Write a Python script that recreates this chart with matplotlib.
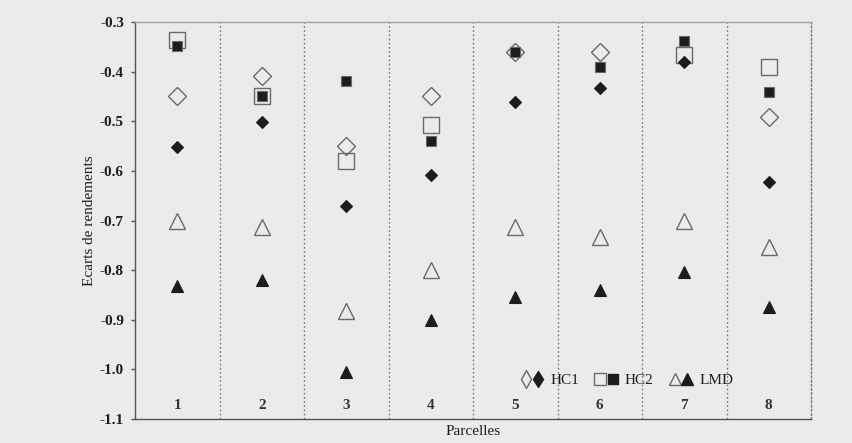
import numpy as np
import matplotlib
matplotlib.use("Agg")
import matplotlib.pyplot as plt
from matplotlib.legend_handler import HandlerTuple
from matplotlib.lines import Line2D

plt.rcParams['font.family'] = ['Liberation Serif', 'DejaVu Serif']

parcelles = ['1', '2', '3', '4', '5', '6', '7', '8']
nan = np.nan

# Yield deviations per plot (open = first scenario, filled = second)
hc1_open = [-0.449, -0.409, -0.550, -0.449, -0.360, -0.360, nan, -0.491]
hc1_fill = [-0.552, -0.502, -0.671, -0.608, -0.461, -0.432, -0.381, -0.622]
hc2_open = [-0.336, -0.449, -0.580, -0.508, nan, nan, -0.367, -0.390]
hc2_fill = [-0.348, -0.449, -0.419, -0.540, -0.360, -0.390, -0.338, -0.441]
lmd_open = [-0.700, -0.713, -0.883, -0.800, -0.713, -0.733, -0.700, -0.753]
lmd_fill = [-0.832, -0.820, -1.006, -0.900, -0.854, -0.840, -0.804, -0.875]

y_ticks = [-0.3, -0.4, -0.5, -0.6, -0.7, -0.8, -0.9, -1.0, -1.1]

bg = '#ebebeb'
ink = '#1c1c1c'
grey = '#6a6a6a'

fig = plt.figure(figsize=(8.53, 4.43), dpi=100, facecolor=bg)
ax = fig.add_axes([0.1583, 0.0542, 0.7925, 0.8961], facecolor=bg)

x = np.arange(1, len(parcelles) + 1)

# open markers first, filled ones on top
ax.plot(x, hc2_open, ls='none', marker='s', ms=12, mfc='none', mec=grey, mew=1.0)
ax.plot(x, hc1_open, ls='none', marker='D', ms=9, mfc='none', mec=grey, mew=1.0)
ax.plot(x, lmd_open, ls='none', marker='^', ms=12, mfc='none', mec=grey, mew=1.0)
ax.plot(x, hc2_fill, ls='none', marker='s', ms=6.5, mfc=ink, mec=grey, mew=0.8)
ax.plot(x, hc1_fill, ls='none', marker='D', ms=6, mfc=ink, mec=ink, mew=0.8)
ax.plot(x, lmd_fill, ls='none', marker='^', ms=8.5, mfc=ink, mec=ink, mew=0.8)

ax.set_xlim(0.5, len(parcelles) + 0.5)
ax.set_ylim(-1.1, -0.3)

# dotted separators between plots
for b in np.arange(1.5, len(parcelles) + 0.5, 1.0):
    ax.axvline(b, color='#777777', ls=(0, (1.2, 1.8)), lw=1.0)

for side in ['left', 'bottom']:
    ax.spines[side].set_color('#555555')
    ax.spines[side].set_linewidth(1.0)
ax.spines['top'].set_color('#a0a0a0')
ax.spines['top'].set_linewidth(1.0)
ax.spines['right'].set_color('#777777')
ax.spines['right'].set_linestyle((0, (1.2, 1.8)))
ax.spines['right'].set_linewidth(1.0)

ax.set_yticks(y_ticks)
ax.set_yticklabels([f'{v:.1f}' for v in y_ticks], fontsize=11, color=ink,
                   fontweight='bold')
ax.tick_params(axis='y', direction='out', length=3, width=1, color='#555555', pad=5)
ax.set_xticks([])

# plot numbers written inside the axes
for xi, lab in zip(x, parcelles):
    ax.text(xi, 0.035, lab, transform=ax.get_xaxis_transform(),
            ha='center', va='center', fontsize=11, fontweight='bold', color='#333333')

ax.set_xlabel('Parcelles', fontsize=11, color=ink, labelpad=4)
ax.set_ylabel('Ecarts de rendements', fontsize=11, color=ink, labelpad=3)

h_hc1 = (Line2D([], [], ls='none', marker='d', ms=9, mfc='none', mec=grey, mew=1.0),
         Line2D([], [], ls='none', marker='d', ms=8, mfc=ink, mec=ink))
h_hc2 = (Line2D([], [], ls='none', marker='s', ms=8, mfc='none', mec=grey, mew=1.0),
         Line2D([], [], ls='none', marker='s', ms=7.5, mfc=ink, mec=ink))
h_lmd = (Line2D([], [], ls='none', marker='^', ms=9, mfc='none', mec=grey, mew=1.0),
         Line2D([], [], ls='none', marker='^', ms=9, mfc=ink, mec=ink))

leg = ax.legend([h_hc1, h_hc2, h_lmd], ['HC1', 'HC2', 'LMD'],
                handler_map={tuple: HandlerTuple(ndivide=None, pad=0.05)},
                ncol=3, frameon=False, loc='center', bbox_to_anchor=(0.727, 0.098),
                handlelength=1.6, handletextpad=0.4, columnspacing=1.0,
                fontsize=11, borderaxespad=0)
for t in leg.get_texts():
    t.set_color(ink)

fig.savefig('out.png', dpi=100, facecolor=bg)
